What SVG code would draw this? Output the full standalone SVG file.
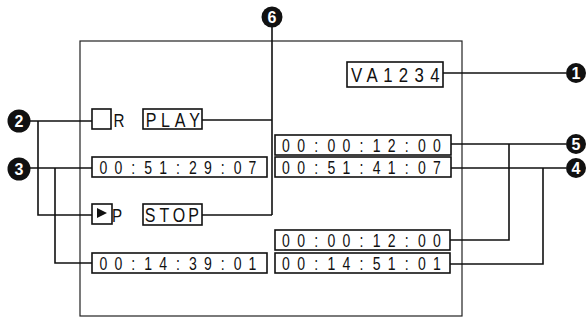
<svg xmlns="http://www.w3.org/2000/svg" width="587" height="320" viewBox="0 0 587 320">
<style>
.bg{fill:#fff}
.frame{fill:none;stroke:#222;stroke-width:1.2}
.box{fill:#fff;stroke:#111;stroke-width:1.6}
.ln{fill:none;stroke:#111;stroke-width:1.6}
.t{font-family:"Liberation Sans",Arial,sans-serif;fill:#111;text-anchor:middle}
.d{font-size:18px}
.w{font-size:20px}
.c{fill:#111}
.n{font-family:"Liberation Sans",Arial,sans-serif;font-weight:bold;font-size:16px;fill:#fff;text-anchor:middle}
</style>
<rect class="bg" x="0" y="0" width="587" height="320"/>
<rect id="frame" class="frame" x="80" y="41" width="382" height="275"/>
<g id="connectors">
<path class="ln" d="M272 27 V215 M202 120 H272 M202 215 H272"/>
<path class="ln" d="M30 121 H92 M38 121 V215 H92"/>
<path class="ln" d="M30 168 H92 M55 168 V263 H92"/>
<path class="ln" d="M443 73 H566"/>
<path class="ln" d="M451 144 H566 M509 144 V240 H450"/>
<path class="ln" d="M451 168 H566 M543 168 V264 H450"/>
</g>
<g id="marker6"><circle class="c" cx="272" cy="17" r="10.5"/><text class="n" x="272" y="23">6</text></g>
<g id="marker2"><circle class="c" cx="19" cy="121" r="11.5"/><text class="n" x="19" y="127">2</text></g>
<g id="marker3"><circle class="c" cx="19" cy="169" r="11.5"/><text class="n" x="19" y="175">3</text></g>
<g id="marker1"><circle class="c" cx="576" cy="73" r="10"/><text class="n" x="576" y="79">1</text></g>
<g id="marker5"><circle class="c" cx="576" cy="144" r="10"/><text class="n" x="576" y="150">5</text></g>
<g id="marker4"><circle class="c" cx="576" cy="168" r="10"/><text class="n" x="576" y="174">4</text></g>
<g id="va">
<rect class="box" x="347" y="62" width="96" height="25"/>
<text class="t" style="font-size:21px" transform="translate(356.5,82) scale(0.8,1)" x="0 19.6 39.2 58.8 78.4 98" y="0">VA1234</text>
</g>
<g id="rec">
<rect class="box" x="92" y="109" width="19" height="20"/>
<text class="t" style="font-size:19px" transform="translate(119,127) scale(0.8,1)" x="0" y="0">R</text>
</g>
<g id="play">
<rect class="box" x="143" y="109" width="59" height="20"/>
<text class="t w" transform="translate(151,127) scale(0.8,1)" x="0 18.1 36.3 54.4" y="0">PLAY</text>
</g>
<g id="pb">
<rect class="box" x="92" y="204" width="20" height="20"/>
<polygon class="c" points="97,208 107,213 97,218"/>
<text class="t" style="font-size:19px" transform="translate(117,222) scale(0.8,1)" x="0" y="0">P</text>
</g>
<g id="stop">
<rect class="box" x="143" y="204" width="59" height="21"/>
<text class="t w" transform="translate(150,222) scale(0.8,1)" x="0 18.1 36.3 54.4" y="0">STOP</text>
</g>
<g id="t1">
<rect class="box" x="92" y="157" width="175" height="20"/>
<text class="t d" transform="translate(103.5,173.5) scale(0.78,1)" x="0 19.1 38.2 57.3 76.4 95.5 114.6 133.7 152.8 171.9 191" y="0">00:51:29:07</text>
</g>
<g id="t2">
<rect class="box" x="92" y="253" width="175" height="20"/>
<text class="t d" transform="translate(103.5,269.5) scale(0.78,1)" x="0 19.1 38.2 57.3 76.4 95.5 114.6 133.7 152.8 171.9 191" y="0">00:14:39:01</text>
</g>
<g id="t3">
<rect class="box" x="275" y="135" width="176" height="20"/>
<text class="t d" transform="translate(286,151.5) scale(0.78,1)" x="0 19.36 38.72 58.08 77.44 96.8 116.16 135.52 154.88 174.24 193.6" y="0">00:00:12:00</text>
</g>
<g id="t4">
<rect class="box" x="275" y="157" width="176" height="20"/>
<text class="t d" transform="translate(286,173.5) scale(0.78,1)" x="0 19.36 38.72 58.08 77.44 96.8 116.16 135.52 154.88 174.24 193.6" y="0">00:51:41:07</text>
</g>
<g id="t5">
<rect class="box" x="275" y="230" width="175" height="20"/>
<text class="t d" transform="translate(286,246.5) scale(0.78,1)" x="0 19.36 38.72 58.08 77.44 96.8 116.16 135.52 154.88 174.24 193.6" y="0">00:00:12:00</text>
</g>
<g id="t6">
<rect class="box" x="275" y="253" width="175" height="20"/>
<text class="t d" transform="translate(286,269.5) scale(0.78,1)" x="0 19.36 38.72 58.08 77.44 96.8 116.16 135.52 154.88 174.24 193.6" y="0">00:14:51:01</text>
</g>
</svg>
